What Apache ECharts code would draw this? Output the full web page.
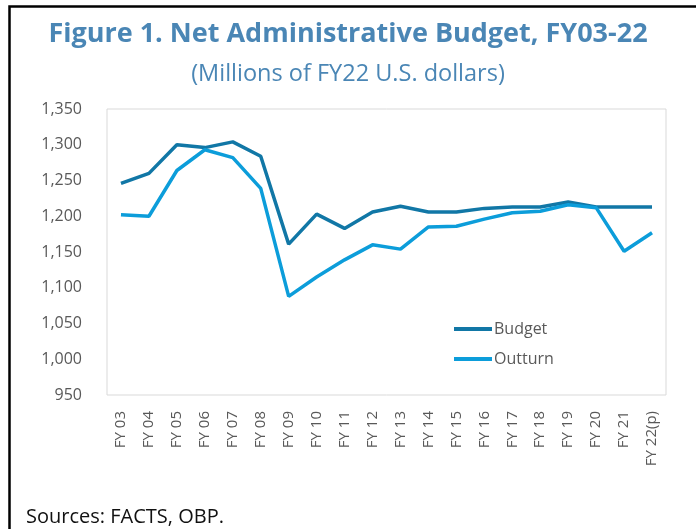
<!DOCTYPE html>
<html>
<head>
<meta charset="utf-8">
<script src="https://cdn.jsdelivr.net/npm/echarts@6/dist/echarts.min.js"></script>
<style>
    html, body { margin: 0; padding: 0; background: #fff; }
    #chart { width: 696px; height: 529px; }
</style>
</head>
<body>
<div id="chart"></div>
<script>
/*
|--------------------------------------------------------------------------
| Data
|--------------------------------------------------------------------------
*/

const years = ['FY 03', 'FY 04', 'FY 05', 'FY 06', 'FY 07', 'FY 08', 'FY 09', 'FY 10', 'FY 11', 'FY 12',
    'FY 13', 'FY 14', 'FY 15', 'FY 16', 'FY 17', 'FY 18', 'FY 19', 'FY 20', 'FY 21', 'FY 22(p)'];

const budget = [1246, 1260, 1300, 1296, 1304, 1284, 1161, 1203, 1183, 1206,
    1214, 1206, 1206, 1211, 1213, 1213, 1220, 1213, 1213, 1213];

const outturn = [1202, 1200, 1264, 1293, 1282, 1239, 1088, 1115, 1139, 1160,
    1154, 1185, 1186, 1196, 1205, 1207, 1216, 1212, 1151, 1177];

/*
|--------------------------------------------------------------------------
| Chart
|--------------------------------------------------------------------------
*/

const fontFamily = ['Open Sans', 'sans-serif'];
const textColor = '#595959';

const chart = echarts.init(document.getElementById('chart'), null, { renderer: 'canvas' });

chart.setOption({
    animation: false,
    color: ['#1177A6', '#0C9DDA'],
    textStyle: { fontFamily },
    title: [
        {
            text: 'Figure 1. Net Administrative Budget, FY03-22',
            left: 'center',
            top: 16,
            textStyle: { fontFamily, fontSize: 27, fontWeight: 'bold', color: '#4A86B5' },
        },
        {
            text: '(Millions of FY22 U.S. dollars)',
            left: 'center',
            top: 57,
            textStyle: { fontFamily, fontSize: 23.5, fontWeight: 'normal', color: '#4A86B5' },
        },
        {
            text: 'Sources: FACTS, OBP.',
            left: 21,
            top: 502,
            textStyle: { fontFamily, fontSize: 20, fontWeight: 'normal', color: '#111' },
        },
    ],
    legend: {
        orient: 'vertical',
        left: 449,
        top: 316,
        itemWidth: 38,
        itemHeight: 14,
        itemGap: 14,
        icon: 'path://M0,5 L38,5 L38,9 L0,9 Z',
        textStyle: { fontFamily, fontSize: 16, color: textColor, padding: [0, 0, 0, -3] },
        data: ['Budget', 'Outturn'],
    },
    grid: {
        left: 107,
        right: 30,
        top: 109,
        bottom: 134,
        show: true,
        borderColor: '#D9D9D9',
        borderWidth: 1,
    },
    xAxis: {
        type: 'category',
        data: years,
        boundaryGap: true,
        axisLine: { show: false },
        axisTick: { show: false },
        axisLabel: {
            rotate: 90,
            margin: 16,
            fontFamily,
            fontSize: 15,
            color: textColor,
            interval: 0,
        },
    },
    yAxis: {
        type: 'value',
        min: 950,
        max: 1350,
        interval: 50,
        splitLine: { show: false },
        axisLine: { show: false },
        axisTick: { show: false },
        axisLabel: {
            margin: 25,
            fontFamily,
            fontSize: 16,
            color: textColor,
            formatter: v => v.toLocaleString('en-US'),
        },
    },
    series: [
        {
            name: 'Budget',
            type: 'line',
            data: budget,
            symbol: 'none',
            lineStyle: { width: 3.5 },
        },
        {
            name: 'Outturn',
            type: 'line',
            data: outturn,
            symbol: 'none',
            lineStyle: { width: 3.5 },
        },
    ],
    graphic: [
        // Frame around the figure (left and top edges)
        {
            type: 'polyline',
            shape: { points: [[9.5, 529], [9.5, 6.5], [696, 6.5]] },
            style: { stroke: '#000', lineWidth: 2.5, fill: null },
            silent: true,
        },
    ],
});
</script>
</body>
</html>
